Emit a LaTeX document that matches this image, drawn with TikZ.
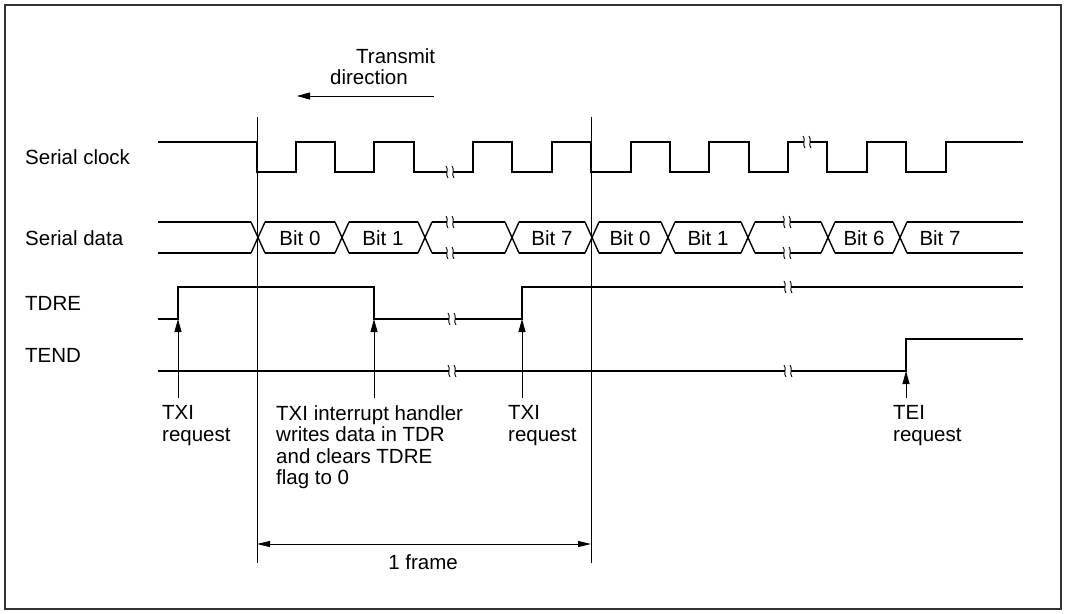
\documentclass[tikz,border=0pt]{standalone}
\usepackage{fontspec}
\setmainfont{Liberation Sans}
\usetikzlibrary{arrows.meta}
\tikzstyle{sig} = [line width=1.4pt]
\tikzstyle{thin} = [line width=0.9pt]
\tikzstyle{arrow} = [thin,-{Triangle[length=13pt,width=7pt]}]
\tikzstyle{dim} = [thin,{Triangle[length=13pt,width=6pt]}-{Triangle[length=13pt,width=6pt]}]
\tikzset{pics/brk/.style={code={
  \fill[white] (-3,-5) rectangle (3,5);
  \draw[line width=0.9pt] (-4,-6) .. controls (-1,-3) and (-5,3) .. (-2,6);
  \draw[line width=0.9pt] (2,-6) .. controls (5,-3) and (1,3) .. (4,6);
}}}

\begin{document}
\begin{tikzpicture}[x=1pt, y=-1pt, font=\fontsize{20.5}{21.3}\selectfont]
  \useasboundingbox (0,0) rectangle (1067,613);
  \draw[line width=1.5pt, black!80] (5,5) rectangle (1061,609);

  % signal names
  \node[anchor=base west, inner sep=0] (lbl-clk) at (25,164.5) {Serial clock};
  \node[anchor=base west, inner sep=0] (lbl-data) at (25,245.5) {Serial data};
  \node[anchor=base west, inner sep=0] (lbl-tdre) at (25,310.5) {TDRE};
  \node[anchor=base west, inner sep=0] (lbl-tend) at (25,362.5) {TEND};

  % transmit direction
  \node[anchor=north west, inner sep=0, align=left] (dir) at (330,48) {\hspace*{26pt}Transmit\\direction};
  \coordinate (dir-r) at (434,96);
  \coordinate (dir-l) at (297,96);
  \draw[arrow] (dir-r) -- (dir-l);

  % frame boundaries
  \coordinate (f0-top) at (257,117);
  \coordinate (f0-bot) at (257,563);
  \coordinate (f1-top) at (591,117);
  \coordinate (f1-bot) at (591,563);
  \draw[thin] (f0-top) -- (f0-bot);
  \draw[thin] (f1-top) -- (f1-bot);

  % serial clock
  \draw[sig] (158,142) -- (257,142) -- (257,172) -- (296,172) -- (296,142) -- (335,142) -- (335,172)
    -- (374,172) -- (374,142) -- (414,142) -- (414,172) -- (473,172) -- (473,142) -- (512,142)
    -- (512,172) -- (552,172) -- (552,142) -- (591,142) -- (591,172) -- (631,172) -- (631,142)
    -- (670,142) -- (670,172) -- (709,172) -- (709,142) -- (749,142) -- (749,172) -- (788,172)
    -- (788,142) -- (827,142) -- (827,172) -- (867,172) -- (867,142) -- (906,142) -- (906,172)
    -- (946,172) -- (946,142) -- (1023,142);
  \pic at (450,172) {brk};
  \pic at (807,142) {brk};

  % serial data
  \draw[sig] (158,222) -- (251,222) (158,253) -- (251,253);
  \foreach \t in {258,342,425,512,592,668,748,828,900}
    \draw[sig] ({\t-7},222) -- ({\t+7},253) ({\t-7},253) -- ({\t+7},222);
  \foreach \a/\b in {258/342,342/425,425/512,512/592,592/668,668/748,748/828,828/900}
    \draw[sig] ({\a+7},222) -- ({\b-7},222) ({\a+7},253) -- ({\b-7},253);
  \draw[sig] (907,222) -- (1023,222) (907,253) -- (1023,253);
  \foreach \x in {450,787} {
    \pic at (\x,222) {brk};
    \pic at (\x,253) {brk};
  }
  \foreach \x/\n/\s in {300/0/a0,383/1/a1,552/7/a7,630/0/b0,708/1/b1,864/6/b6,940/7/b7}
    \node[anchor=base, inner sep=0] (bit-\s) at (\x,245.5) {Bit \n};

  % TDRE and TEND
  \draw[sig] (158,319) -- (178,319) -- (178,287) -- (374,287) -- (374,319) -- (522,319)
    -- (522,287) -- (1023,287);
  \draw[sig] (158,371) -- (906,371) -- (906,339) -- (1023,339);
  \pic at (452,319) {brk};
  \pic at (788,287) {brk};
  \pic at (452,371) {brk};
  \pic at (788,371) {brk};

  % requests
  \coordinate (txi1) at (178,319);
  \coordinate (txi1-foot) at (178,398);
  \coordinate (clr) at (374,319);
  \coordinate (clr-foot) at (374,398);
  \coordinate (txi2) at (522,319);
  \coordinate (txi2-foot) at (522,398);
  \coordinate (tei) at (906,371);
  \coordinate (tei-foot) at (906,398);
  \draw[arrow] (txi1-foot) -- (txi1);
  \draw[arrow] (clr-foot) -- (clr);
  \draw[arrow] (txi2-foot) -- (txi2);
  \draw[arrow] (tei-foot) -- (tei);

  \node[anchor=north west, inner sep=0, align=left] (txt-txi1) at (162,405.5) {TXI\\request};
  \node[anchor=north west, inner sep=0, align=left] (txt-clr) at (276,405.5) {TXI interrupt handler\\writes data in TDR\\and clears TDRE\\flag to 0};
  \node[anchor=north west, inner sep=0, align=left] (txt-txi2) at (508,405.5) {TXI\\request};
  \node[anchor=north west, inner sep=0, align=left] (txt-tei) at (893,405.5) {TEI\\request};

  % one frame
  \coordinate (fr-l) at (257,544);
  \coordinate (fr-r) at (591,544);
  \draw[dim] (fr-l) -- (fr-r);
  \node[anchor=base, inner sep=0] (txt-frame) at (423,569.5) {1 frame};
\end{tikzpicture}
\end{document}
